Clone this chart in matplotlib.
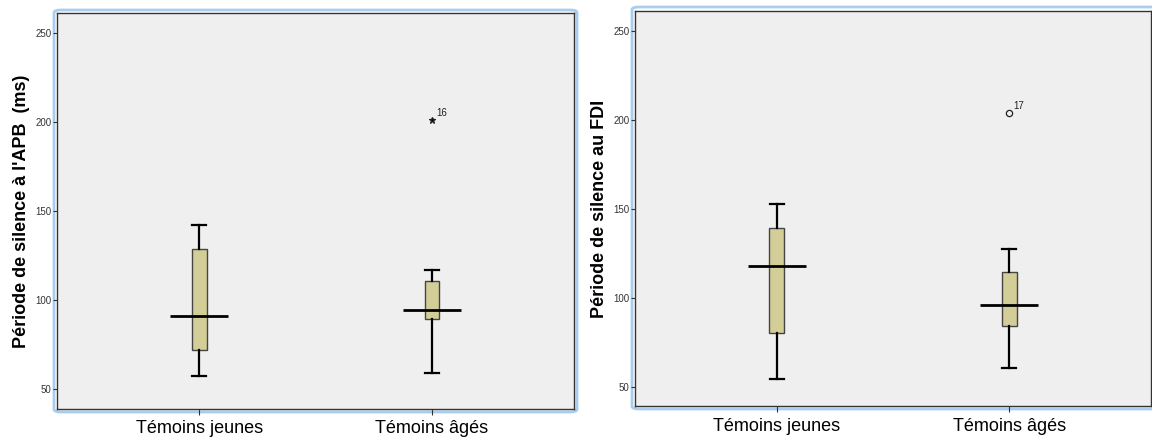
import numpy as np
import matplotlib
matplotlib.use("Agg")
import matplotlib.pyplot as plt
from matplotlib.patches import FancyBboxPatch

plt.rcParams['font.family'] = ['Liberation Sans', 'DejaVu Sans']

groups = ['Témoins jeunes', 'Témoins âgés']

# Période de silence à l'APB (ms)
apb_whislo = [57.5, 59.4]
apb_q1 = [72.3, 89.5]
apb_med = [91.0, 94.4]
apb_q3 = [129.0, 111.0]
apb_whishi = [142.5, 117.2]
apb_fliers = [[], [201.1]]
apb_flier_ids = [[], ['16']]

# Période de silence au FDI
fdi_whislo = [54.7, 60.8]
fdi_q1 = [80.5, 84.4]
fdi_med = [118.0, 96.0]
fdi_q3 = [139.4, 114.5]
fdi_whishi = [152.5, 127.4]
fdi_fliers = [[], [204.0]]
fdi_flier_ids = [[], ['17']]

yticks = [50, 100, 150, 200, 250]

BOX_COLOR = '#d3ce97'
FACE = '#efefef'
FRAME = '#a8cdef'


def draw_panel(ax, whislo, q1, med, q3, whishi, fliers, ids, ylabel, flier_marker):
    pos = np.arange(1, len(groups) + 1)
    stats = []
    for i in range(len(groups)):
        stats.append(dict(whislo=whislo[i], q1=q1[i], med=med[i], q3=q3[i],
                          whishi=whishi[i], fliers=fliers[i]))
    ax.bxp(stats, positions=pos, widths=0.064, patch_artist=True,
           boxprops=dict(facecolor=BOX_COLOR, edgecolor='#444444', linewidth=1.0),
           whiskerprops=dict(color='black', linewidth=1.6),
           capprops=dict(color='black', linewidth=1.6),
           medianprops=dict(linewidth=0),
           flierprops=dict(marker=flier_marker, markersize=4.5,
                           markerfacecolor='none' if flier_marker == 'o' else 'black',
                           markeredgecolor='#222222', markeredgewidth=0.9),
           capwidths=0.06)
    ax.hlines(med, pos - 0.125, pos + 0.125, color='black', linewidth=2.0, zorder=5)
    for i in range(len(groups)):
        for v, lab in zip(fliers[i], ids[i]):
            ax.annotate(lab, (pos[i], v), xytext=(3, 3), textcoords='offset points',
                        fontsize=7, color='#222222')
    ax.set_xlim(0.39, 2.61)
    ax.set_ylim(39, 261.2)
    ax.set_yticks(yticks)
    ax.set_xticks(pos)
    ax.set_xticklabels(groups, fontsize=13)
    ax.tick_params(axis='y', labelsize=7, length=3, width=0.8, colors='#333333', pad=1)
    ax.tick_params(axis='x', length=4, width=0.8, colors='#333333', pad=4)
    for lab in ax.get_xticklabels():
        lab.set_color('black')
    ax.set_facecolor(FACE)
    for s in ax.spines.values():
        s.set_color('#333333')
        s.set_linewidth(1.0)
    ax.set_ylabel(ylabel, fontsize=13, fontweight='bold', labelpad=4)


fig = plt.figure(figsize=(11.52, 4.37), dpi=100)
ax1 = fig.add_axes([0.0495, 0.0641, 0.4488, 0.9062])
ax2 = fig.add_axes([0.5512, 0.0698, 0.4479, 0.9050])

draw_panel(ax1, apb_whislo, apb_q1, apb_med, apb_q3, apb_whishi, apb_fliers,
           apb_flier_ids, "Période de silence à l'APB  (ms)", '*')
draw_panel(ax2, fdi_whislo, fdi_q1, fdi_med, fdi_q3, fdi_whishi, fdi_fliers,
           fdi_flier_ids, "Période de silence au FDI", 'o')

# light blue rounded frames round each chart
W, H = 1152.0, 437.0
for x0, y0, x1, y1 in [(54, 10, 577, 412), (632, 7, 1160, 409)]:
    fig.patches.append(FancyBboxPatch((x0 / W, 1 - y1 / H), (x1 - x0) / W, (y1 - y0) / H,
                                      boxstyle='round,pad=0,rounding_size=0.006',
                                      transform=fig.transFigure, fill=False,
                                      edgecolor=FRAME, linewidth=2.0, zorder=-1))

fig.savefig('out.png', dpi=100)
